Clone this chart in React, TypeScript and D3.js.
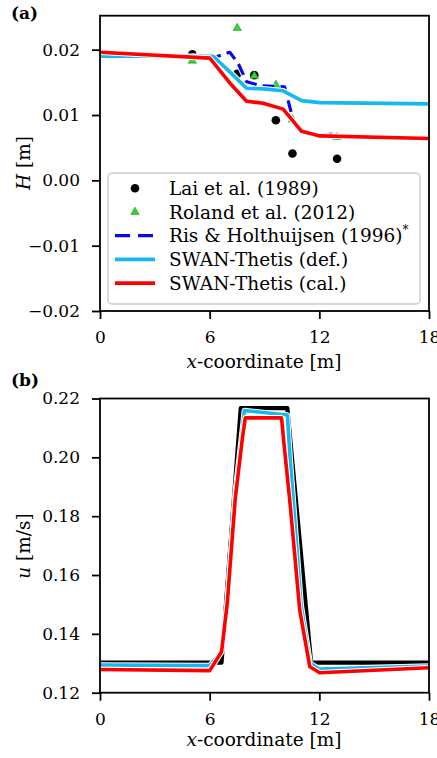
import React, { useEffect, useRef } from "react";
import * as d3 from "d3";

// ---- data ----
const xTicks = [0, 6, 12, 18];
const hTicks = [-0.02, -0.01, 0.0, 0.01, 0.02];
const uTicks = [0.12, 0.14, 0.16, 0.18, 0.2, 0.22];

// panel (a): wave height
const obsX = [5.05, 7.51, 8.44, 9.62, 10.53, 12.97];
const laiH = [0.0193, 0.0163, 0.0161, 0.0092, 0.0041, 0.0033];
const rolandH = [0.0183, 0.0233, 0.016, 0.0146, 0.0093, 0.0066];

const risX = [5.0, 6.1, 7.1, 7.56, 8.02, 8.75, 10.1, 10.57, 11.03, 11.85, 13.03];
const risH = [0.019, 0.0187, 0.0196, 0.0179, 0.0151, 0.0145, 0.0143, 0.0092, 0.0075, 0.0068, 0.0072];

const defX = [0, 6.2, 7.1, 8.02, 8.93, 10.02, 11.03, 12.03, 18];
const defH = [0.019, 0.019, 0.0166, 0.0141, 0.014, 0.0137, 0.0122, 0.0119, 0.0117];

const calX = [0, 6.01, 7.1, 8.02, 8.93, 10.02, 11.03, 12.03, 18];
const calH = [0.0196, 0.0187, 0.0149, 0.0121, 0.0118, 0.0109, 0.0075, 0.0068, 0.0064];

// panel (b): current velocity
const refUX = [0, 6.65, 7.7, 10.25, 11.55, 18];
const refU = [0.1302, 0.1302, 0.2167, 0.2167, 0.1302, 0.1302];

const defUX = [0, 6, 6.65, 6.96, 7.4, 7.8, 7.9, 10.25, 10.4, 11.0, 11.5, 12.0, 18];
const defU = [0.1294, 0.1292, 0.1339, 0.15, 0.188, 0.21, 0.2159, 0.2144, 0.2, 0.15, 0.13, 0.128, 0.1291];

const calUX = [0, 6, 6.65, 6.96, 7.4, 7.8, 7.95, 9.93, 10.1, 10.38, 10.93, 11.48, 12.02, 18];
const calU = [0.1279, 0.1275, 0.1339, 0.1503, 0.186, 0.207, 0.2134, 0.2134, 0.2025, 0.1855, 0.148, 0.1288, 0.1268, 0.1285];

const legendLabels = [
  "Lai et al. (1989)",
  "Roland et al. (2012)",
  "Ris & Holthuijsen (1996)*",
  "SWAN-Thetis (def.)",
  "SWAN-Thetis (cal.)",
];

const BLUE = "#0a0ae8";
const CYAN = "#14b9f0";
const RED = "#ff0000";
const GREEN = "#33d433";
const FONT = "'DejaVu Serif', 'Liberation Serif', serif";

const App = () => {
  const svgRef = useRef<SVGSVGElement>(null);

  useEffect(() => {
    const svg = d3.select(svgRef.current);
    svg.selectAll("*").remove();

    const x = d3.scaleLinear().domain([0, 18]).range([100, 429]);
    const yA = d3.scaleLinear().domain([-0.02, 0.0252]).range([311, 15.7]);
    const yB = d3.scaleLinear().domain([0.12, 0.22]).range([692.7, 398.5]);

    const drawLine = (g, xs, ys, y, color, width, dash?) => {
      const pts = xs.map((v, i) => [v, ys[i]]);
      const line = d3.line().x((d) => x(d[0])).y((d) => y(d[1]));
      g.append("path").datum(pts)
        .attr("fill", "none").attr("stroke", "white")
        .attr("stroke-width", width + 2)
        .attr("stroke-linejoin", "round")
        .attr("stroke-dasharray", dash || null)
        .attr("d", line);
      g.append("path").datum(pts)
        .attr("fill", "none").attr("stroke", color)
        .attr("stroke-width", width)
        .attr("stroke-linejoin", "round")
        .attr("stroke-dasharray", dash || null)
        .attr("d", line);
    };

    const axes = (y, ticks, fmt, top, bottom) => {
      const gx = svg.append("g").attr("transform", `translate(0,${bottom})`)
        .call(d3.axisBottom(x).tickValues(xTicks).tickSize(8).tickPadding(12).tickFormat(d3.format("d")));
      const gy = svg.append("g").attr("transform", `translate(100,0)`)
        .call(d3.axisLeft(y).tickValues(ticks).tickSize(8).tickPadding(12).tickFormat(fmt));
      [gx, gy].forEach((g) => {
        g.attr("font-family", null).attr("font-size", null);
        g.select(".domain").remove();
        g.selectAll("line").attr("stroke", "black").attr("stroke-width", 1.8);
        g.selectAll("text").style("font-family", FONT).style("font-size", "17px").attr("fill", "black");
      });
      svg.append("rect").attr("x", 100).attr("y", top)
        .attr("width", 329).attr("height", bottom - top)
        .attr("fill", "none").attr("stroke", "black").attr("stroke-width", 1.8);
    };

    const minusFmt = (d) => d3.format(".2f")(d).replace("-", "\u2212");

    // ---------- panel (a) ----------
    const ga = svg.append("g");
    ga.selectAll("circle.lai").data(obsX).enter().append("circle")
      .attr("cx", (d) => x(d)).attr("cy", (d, i) => yA(laiH[i])).attr("r", 4.3).attr("fill", "black");
    const tri = d3.symbol().type(d3.symbolTriangle).size(30);
    ga.selectAll("path.rol").data(obsX).enter().append("path")
      .attr("d", tri).attr("transform", (d, i) => `translate(${x(d)},${yA(rolandH[i])})`)
      .attr("fill", GREEN).attr("stroke", "#1c9c1c").attr("stroke-width", 0.6);
    drawLine(ga, risX, risH, yA, BLUE, 3.2, "12 6");
    drawLine(ga, defX, defH, yA, CYAN, 3.6);
    drawLine(ga, calX, calH, yA, RED, 3.6);
    axes(yA, hTicks, minusFmt, 15.7, 311);

    // legend
    const lg = svg.append("g");
    lg.append("rect").attr("x", 108).attr("y", 173).attr("width", 312).attr("height", 131)
      .attr("rx", 4).attr("fill", "white").attr("fill-opacity", 0.85)
      .attr("stroke", "#cccccc").attr("stroke-width", 1.5);
    legendLabels.forEach((lab, i) => {
      const cy = 188.3 + i * 23.7;
      if (i === 0) lg.append("circle").attr("cx", 135).attr("cy", cy).attr("r", 4.3).attr("fill", "black");
      if (i === 1) lg.append("path").attr("d", tri).attr("transform", `translate(135,${cy})`)
        .attr("fill", GREEN).attr("stroke", "#1c9c1c").attr("stroke-width", 0.6);
      if (i >= 2) {
        const color = [BLUE, CYAN, RED][i - 2];
        lg.append("line").attr("x1", 115).attr("x2", 155).attr("y1", cy).attr("y2", cy)
          .attr("stroke", color).attr("stroke-width", i === 2 ? 3.2 : 3.6)
          .attr("stroke-dasharray", i === 2 ? "15 8" : null);
      }
      const t = lg.append("text").attr("x", 169).attr("y", cy).attr("dy", "0.36em")
        .style("font-family", FONT).style("font-size", "18.5px").attr("fill", "black").text(lab.replace("*", ""));
      if (lab.endsWith("*")) t.append("tspan").style("font-size", "12px").attr("dy", "-0.7em").text("*");
    });

    // ---------- panel (b) ----------
    const gb = svg.append("g");
    drawLine(gb, refUX, refU, yB, "black", 4.2);
    drawLine(gb, defUX, defU, yB, CYAN, 3.6);
    drawLine(gb, calUX, calU, yB, RED, 3.6);
    axes(yB, uTicks, d3.format(".2f"), 398.5, 692.7);

    // labels
    const label = (xx, yy, rot, italicPart, rest) => {
      const t = svg.append("text").style("font-family", FONT).style("font-size", "18.5px")
        .attr("text-anchor", "middle").attr("fill", "black")
        .attr("transform", `translate(${xx},${yy}) rotate(${rot})`);
      t.append("tspan").style("font-style", "italic").text(italicPart);
      t.append("tspan").text(rest);
    };
    label(264, 368, 0, "x", "-coordinate [m]");
    label(264, 746, 0, "x", "-coordinate [m]");
    label(30, 163, -90, "H", " [m]");
    label(30, 546, -90, "u", " [m/s]");

    svg.append("text").attr("x", 11).attr("y", 19).style("font-family", FONT)
      .style("font-weight", "bold").style("font-size", "17px").text("(a)");
    svg.append("text").attr("x", 11).attr("y", 386).style("font-family", FONT)
      .style("font-weight", "bold").style("font-size", "17px").text("(b)");
  }, []);

  return (
    <svg
      ref={svgRef}
      width={437}
      height={758}
      style={{ position: "absolute", left: 0, top: 0, background: "white" }}
    />
  );
};

export default App;
